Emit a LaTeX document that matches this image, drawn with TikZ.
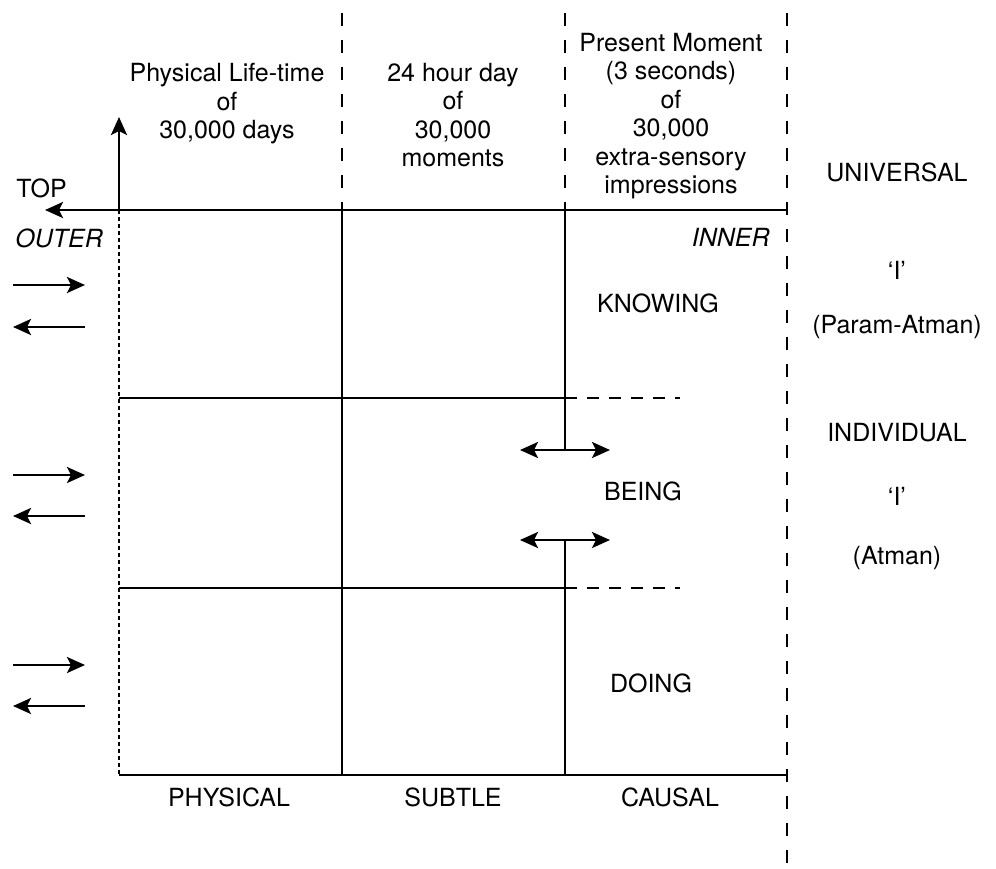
\documentclass[tikz,border=0pt]{standalone}
\usepackage{fontspec}
\setmainfont{TeX Gyre Heros}
\usetikzlibrary{arrows.meta}
\tikzset{
  lbl/.style={inner sep=0pt, align=center},
  tip/.style={-{Stealth[length=9pt,width=8pt,inset=2pt]}},
  both/.style={{Stealth[length=9pt,width=8pt,inset=2pt]}-{Stealth[length=9pt,width=8pt,inset=2pt]}},
  longdash/.style={dash pattern=on 6.5pt off 7pt},
  shortdash/.style={dash pattern=on 6pt off 5pt},
  finedash/.style={dash pattern=on 2pt off 1.5pt}
}

\begin{document}
\begin{tikzpicture}[x=0.5pt, y=-0.5pt, line width=1.35pt,
    font=\fontsize{12.5}{14.2}\selectfont]
  \useasboundingbox (0,0) rectangle (996,868);

  % corners of the grid
  \coordinate (O) at (119,210);
  \coordinate (topTip) at (45,210);
  \coordinate (upTip) at (119,117);
  \coordinate (topR) at (787,210);
  \coordinate (botL) at (119,775);
  \coordinate (botR) at (787,775);

  % axes and frame
  \draw[tip] (topR) -- (topTip);
  \draw[tip] (O) -- (upTip);
  \draw[finedash] (O) -- (botL);
  \draw (botL) -- (botR);
  \draw (342,210) -- (342,775);
  \draw (565,210) -- (565,450);
  \draw (565,540) -- (565,775);
  \foreach \y in {398,588} {
    \draw (119,\y) -- (565,\y);
    \draw[shortdash] (565,\y) -- (680,\y);
  }
  \draw[both] (520,450) -- (610,450);
  \draw[both] (520,540) -- (610,540);

  % dashed dividers
  \draw[longdash] (342,13) -- (342,210);
  \draw[longdash] (565,13) -- (565,210);
  \draw[longdash] (787,13) -- (787,868);

  % in and out arrows
  \foreach \y in {285,475,665} \draw[tip] (13,\y) -- (85,\y);
  \foreach \y in {327,516,706} \draw[tip] (85,\y) -- (13,\y);

  % column heads
  \node[lbl, anchor=north] (lifetime) at (227,62) {Physical Life-time\\of\\30,000 days};
  \node[lbl, anchor=north] (day) at (453,62) {24 hour day\\of\\30,000\\moments};
  \node[lbl, anchor=north] (present) at (671,32) {Present Moment\\(3 seconds)\\of\\30,000\\extra-sensory\\impressions};

  % axis labels
  \node[lbl, anchor=base west] (top) at (15,197) {TOP};
  \node[lbl, anchor=west] (outer) at (14,238) {\itshape OUTER};
  \node[lbl, anchor=east] (inner) at (771,237) {\itshape INNER};

  % rows
  \node[lbl] (knowing) at (658,303) {KNOWING};
  \node[lbl] (being) at (643,491) {BEING};
  \node[lbl] (doing) at (651,683) {DOING};

  % bottom labels
  \node[lbl] (physical) at (229,797) {PHYSICAL};
  \node[lbl] (subtle) at (453,797) {SUBTLE};
  \node[lbl] (causal) at (670,797) {CAUSAL};

  % right column
  \node[lbl] (universal) at (897,172) {UNIVERSAL};
  \node[lbl] (uniI) at (897,270) {‘I’};
  \node[lbl] (param) at (897,327) {(Param-Atman)};
  \node[lbl] (individual) at (897,433) {INDIVIDUAL};
  \node[lbl] (indI) at (897,496) {‘I’};
  \node[lbl] (atman) at (897,558) {(Atman)};
\end{tikzpicture}
\end{document}
